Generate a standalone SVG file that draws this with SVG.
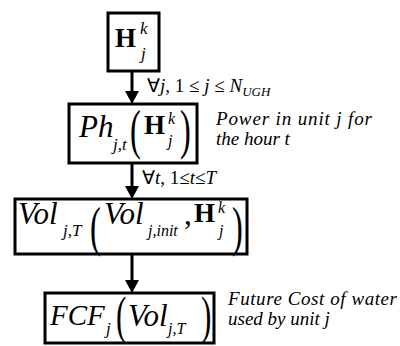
<svg xmlns="http://www.w3.org/2000/svg" width="400" height="346" viewBox="0 0 400 346">
<defs>
<path id="head" d="M-7,-13 L7,-13 L0,0 z" fill="#000"/>
</defs>
<rect width="400" height="346" fill="#fff"/>
<g id="connectors" stroke="#000" stroke-width="3">
<line x1="132" y1="71" x2="132" y2="92"/>
<use href="#head" x="132" y="104" stroke="none"/>
<line x1="132" y1="163" x2="132" y2="187"/>
<use href="#head" x="132" y="199" stroke="none"/>
<line x1="132" y1="254" x2="132" y2="281"/>
<use href="#head" x="132" y="293" stroke="none"/>
</g>
<g id="label-j">
<text x="147" y="92" font-size="19" font-family="Liberation Serif">∀<tspan font-style="italic">j</tspan>,  1 ≤ <tspan font-style="italic">j</tspan> ≤ <tspan font-style="italic">N</tspan><tspan font-style="italic" font-size="13" dy="4">UGH</tspan></text>
</g>
<g id="label-t">
<text x="142" y="184" font-size="19" font-family="Liberation Serif">∀<tspan font-style="italic">t</tspan>,  1≤<tspan font-style="italic">t</tspan>≤<tspan font-style="italic">T</tspan></text>
</g>
<g id="node1">
<rect x="108" y="13" width="51" height="58" fill="#fff" stroke="#000" stroke-width="3"/>
<text x="115" y="47" font-size="27" font-family="Liberation Serif" font-weight="bold">H</text>
<text x="140" y="34" font-size="17" font-family="Liberation Serif" font-style="italic">k</text>
<text x="141" y="59" font-size="17" font-family="Liberation Serif" font-style="italic">j</text>
</g>
<g id="node2">
<rect x="69" y="104" width="128" height="59" fill="#fff" stroke="#000" stroke-width="3"/>
<text x="79" y="137" font-size="31" font-family="Liberation Serif" font-style="italic">Ph</text>
<text x="113" y="150" font-size="17" font-family="Liberation Serif" font-style="italic">j,t</text>
<text transform="translate(130,148) scale(0.6,1)" font-size="54" font-family="Liberation Serif">(</text>
<text x="144" y="134" font-size="27" font-family="Liberation Serif" font-weight="bold">H</text>
<text x="168" y="124" font-size="16" font-family="Liberation Serif" font-style="italic">k</text>
<text x="168" y="146" font-size="16" font-family="Liberation Serif" font-style="italic">j</text>
<text transform="translate(180,148) scale(0.6,1)" font-size="54" font-family="Liberation Serif">)</text>
<text x="216" y="125" font-size="19" textLength="156" font-family="Liberation Serif" font-style="italic">Power in unit  j for</text>
<text x="216" y="145" font-size="19" font-family="Liberation Serif" font-style="italic">the hour t</text>
</g>
<g id="node3">
<rect x="15" y="199" width="232" height="55" fill="#fff" stroke="#000" stroke-width="3"/>
<text x="18" y="224" font-size="31" font-family="Liberation Serif" font-style="italic">Vol</text>
<text x="63" y="236" font-size="17" font-family="Liberation Serif" font-style="italic"> j,T</text>
<text transform="translate(90,245) scale(0.6,1)" font-size="54" font-family="Liberation Serif">(</text>
<text x="104" y="224" font-size="31" font-family="Liberation Serif" font-style="italic">Vol</text>
<text x="148" y="236" font-size="16" font-family="Liberation Serif" font-style="italic"> j,init</text>
<text x="184" y="224" font-size="31" font-family="Liberation Serif">,</text>
<text x="194" y="222" font-size="27" font-family="Liberation Serif" font-weight="bold">H</text>
<text x="218" y="213" font-size="16" font-family="Liberation Serif" font-style="italic">k</text>
<text x="219" y="236" font-size="16" font-family="Liberation Serif" font-style="italic">j</text>
<text transform="translate(232,245) scale(0.6,1)" font-size="54" font-family="Liberation Serif">)</text>
</g>
<g id="node4">
<rect x="45" y="293" width="169" height="50" fill="#fff" stroke="#000" stroke-width="3"/>
<text x="50" y="325" font-size="29" font-family="Liberation Serif" font-style="italic">FCF</text>
<text x="106" y="334" font-size="17" font-family="Liberation Serif" font-style="italic">j</text>
<text transform="translate(116,333) scale(0.6,1)" font-size="52" font-family="Liberation Serif">(</text>
<text x="128" y="326" font-size="31" font-family="Liberation Serif" font-style="italic">Vol</text>
<text x="168" y="334" font-size="16" font-family="Liberation Serif" font-style="italic"> j,T</text>
<text transform="translate(201,333) scale(0.6,1)" font-size="52" font-family="Liberation Serif">)</text>
<text x="228" y="305" font-size="19" textLength="169" font-family="Liberation Serif" font-style="italic">Future Cost of water</text>
<text x="228" y="325" font-size="19" font-family="Liberation Serif" font-style="italic">used by unit j</text>
</g>
</svg>
